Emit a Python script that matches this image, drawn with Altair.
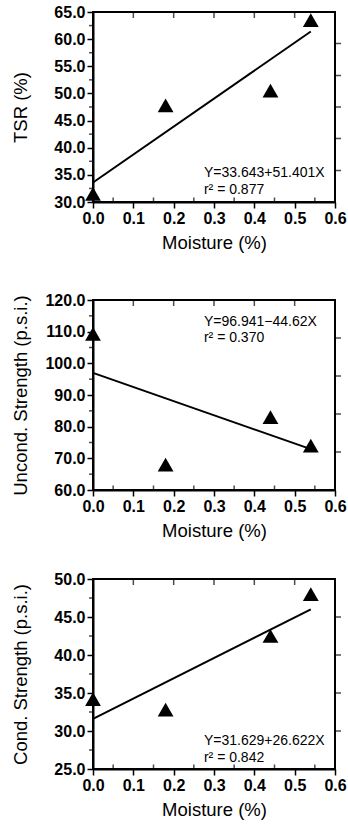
import altair as alt
import pandas as pd

FONT = "Liberation Sans"

# ---- data ----
moisture = [0.0, 0.18, 0.44, 0.54]
tsr = [31.5, 47.8, 50.5, 63.5]
uncond = [109.3, 68.0, 83.0, 74.0]
cond = [34.2, 32.8, 42.5, 48.0]

fit_x = [0.0, 0.54]
tsr_fit = [33.6, 61.4]
uncond_fit = [97.0, 72.9]
cond_fit = [31.6, 46.0]

x_ticks = [0.0, 0.1, 0.2, 0.3, 0.4, 0.5, 0.6]
x_minor = [0.05, 0.15, 0.25, 0.35, 0.45, 0.55]

tsr_ticks = [30, 35, 40, 45, 50, 55, 60, 65]
tsr_minor = [32.5, 37.5, 42.5, 47.5, 52.5, 57.5, 62.5]
tsr_right = [35.8, 41.7, 47.5, 53.3, 59.2]

uncond_ticks = [60, 70, 80, 90, 100, 110, 120]
uncond_minor = [65, 75, 85, 95, 105, 115]
uncond_right = [72, 84, 96, 108]

cond_ticks = [25, 30, 35, 40, 45, 50]
cond_minor = [27.5, 32.5, 37.5, 42.5, 47.5]
cond_right = [30, 35, 40, 45]

tsr_eq = ["Y=33.643+51.401X", "r² = 0.877"]
uncond_eq = ["Y=96.941\u221244.62X", "r² = 0.370"]
cond_eq = ["Y=31.629+26.622X", "r² = 0.842"]


def panel(yv, fit, yticks, yminor, yright, ytitle, eq, eq_x, eq_y):
    ydom = [yticks[0], yticks[-1]]
    xs = alt.Scale(domain=[0, 0.6], nice=False, zero=False)
    ys = alt.Scale(domain=ydom, nice=False, zero=False)
    xax = alt.Axis(values=x_ticks, format=".1f", title="Moisture (%)",
                   labelFlush=False, labelOverlap=False, grid=False)
    yax = alt.Axis(values=yticks, format=".1f", title=ytitle,
                   labelFlush=False, labelOverlap=False, grid=False)

    def X():
        return alt.X("x:Q", scale=xs, axis=xax)

    def Y():
        return alt.Y("y:Q", scale=ys, axis=yax)

    pts = alt.Chart(pd.DataFrame({"x": moisture, "y": yv})).mark_point(
        shape="triangle-up", filled=True, color="black", size=250, opacity=1
    ).encode(X(), Y())
    line = alt.Chart(pd.DataFrame({"x": fit_x, "y": fit})).mark_line(
        color="black", strokeWidth=2
    ).encode(X(), Y())
    bot_minor = alt.Chart(pd.DataFrame({"x": x_minor, "y": [ydom[0]] * len(x_minor)})).mark_tick(
        orient="vertical", size=5, thickness=1.5, color="black", yOffset=-2
    ).encode(X(), Y())
    top_ticks = alt.Chart(pd.DataFrame({"x": x_ticks[1:-1], "y": [ydom[1]] * (len(x_ticks) - 2)})).mark_tick(
        orient="vertical", size=6, thickness=1.5, color="black", yOffset=3
    ).encode(X(), Y())
    left_minor = alt.Chart(pd.DataFrame({"x": [0.0] * len(yminor), "y": yminor})).mark_tick(
        orient="horizontal", size=4, thickness=1.5, color="black", xOffset=-2
    ).encode(X(), Y())
    right_ticks = alt.Chart(pd.DataFrame({"x": [0.6] * len(yright), "y": yright})).mark_tick(
        orient="horizontal", size=6, thickness=1.5, color="black", xOffset=3
    ).encode(X(), Y())
    txt = alt.Chart(pd.DataFrame({"x": [eq_x, eq_x], "y": eq_y, "label": eq})).mark_text(
        align="left", baseline="middle", fontSize=14, font=FONT, color="black"
    ).encode(X(), Y(), text="label:N")
    return alt.layer(line, pts, bot_minor, top_ticks, left_minor, right_ticks, txt).properties(
        width=242, height=190
    )


p1 = panel(tsr, tsr_fit, tsr_ticks, tsr_minor, tsr_right, "TSR (%)", tsr_eq, 0.275, [35.3, 32.2])
p2 = panel(uncond, uncond_fit, uncond_ticks, uncond_minor, uncond_right,
           "Uncond. Strength (p.s.i.)", uncond_eq, 0.275, [113.1, 107.9])
p3 = panel(cond, cond_fit, cond_ticks, cond_minor, cond_right,
           "Cond. Strength (p.s.i.)", cond_eq, 0.275, [28.7, 26.5])

lower = alt.vconcat(p2, p3, spacing=29)
chart = alt.vconcat(p1, lower, spacing=38).properties(
    padding={"left": 10, "top": 3, "right": 0, "bottom": 0}
).configure_view(
    stroke="black", strokeWidth=2
).configure_axis(
    labelFont=FONT, titleFont=FONT, labelFontSize=16, titleFontSize=18.5,
    labelColor="black", titleColor="black", labelFontWeight="bold",
    titleFontWeight="normal",
    domainColor="black", domainWidth=2, tickColor="black", tickWidth=1.5,
    tickSize=6, labelPadding=2
).configure_axisY(
    minExtent=50, maxExtent=50, titlePadding=13
).configure_axisX(
    titlePadding=7
)

chart.save("out.html", embed_options={"renderer": "svg", "actions": False})
